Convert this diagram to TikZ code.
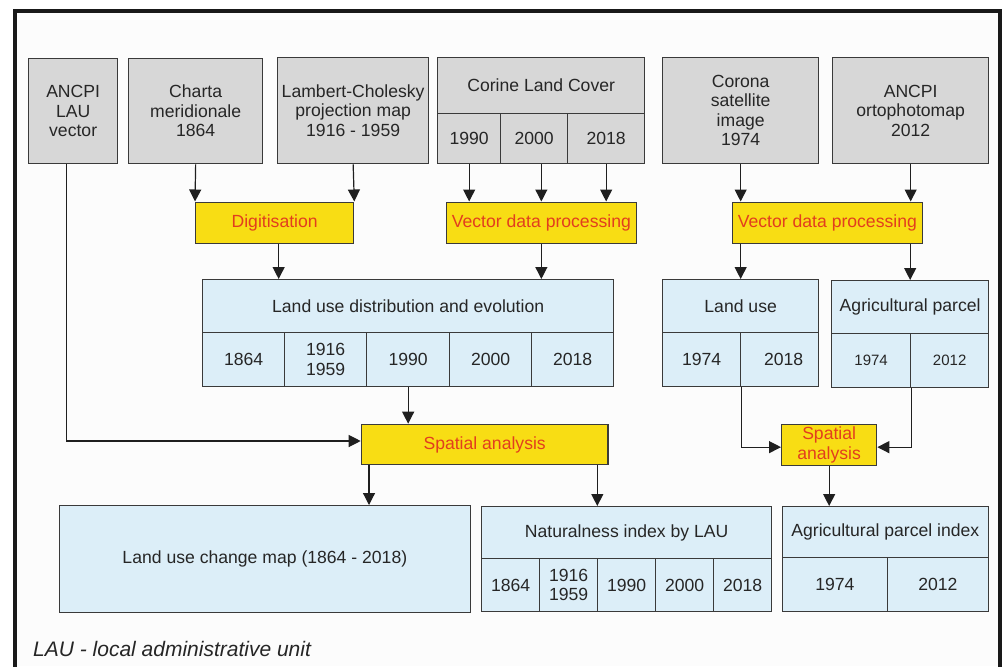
\documentclass[tikz,border=0pt]{standalone}
\usepackage{fontspec}
\setmainfont{Liberation Sans}
\usetikzlibrary{arrows.meta,calc}
\definecolor{boxgrey}{RGB}{215,215,215}
\definecolor{boxblue}{RGB}{220,238,248}
\definecolor{boxyellow}{RGB}{248,221,20}
\definecolor{txtred}{RGB}{226,62,30}
\definecolor{edge}{RGB}{58,58,58}
\definecolor{inside}{RGB}{252,252,252}
\begin{document}
\begin{tikzpicture}[x=1pt,y=-1pt,
  wh/.style 2 args={minimum width=#1pt, minimum height=#2pt},
  cell/.style={draw=edge, line width=1.3pt, anchor=north west, inner sep=0pt, align=center,
    font=\fontsize{17.6}{19.5}\selectfont, text=black!85},
  grey/.style={cell, fill=boxgrey},
  blue/.style={cell, fill=boxblue},
  proc/.style={cell, fill=boxyellow, text=txtred},
  arr/.style={draw=black!88, line width=1.2pt, -{Triangle[length=12pt,width=12pt]}}]
\useasboundingbox (0,0) rectangle (1003,666);
\fill[white] (0,0) rectangle (1003,666);
\fill[inside] (15,11) rectangle (1000,666);
\draw[line width=3.5pt, black!90] (15,668) -- (15,11) -- (1000,11) -- (1000,668);

% top sources
\node[grey, wh={89}{105}] (ancpi) at (28,58) {ANCPI\\LAU\\vector};
\node[grey, wh={134}{105}] (charta) at (128,58) {Charta\\meridionale\\1864};
\node[grey, wh={151}{106}] (lambert) at (277,57) {Lambert-Cholesky\\projection map\\1916 - 1959};
\node[grey, wh={207}{56}] (corT) at (437,57) {Corine Land Cover};
\node[grey, wh={63}{50}] (cor1) at (437,113) {1990};
\node[grey, wh={67}{50}] (cor2) at (500,113) {2000};
\node[grey, wh={77}{50}] (cor3) at (567,113) {2018};
\node[grey, wh={156}{106}] (corona) at (662,57) {Corona\\satellite\\image\\1974};
\node[grey, wh={156}{106}] (ortho) at (832,57) {ANCPI\\ortophotomap\\2012};

% processing
\node[proc, wh={158}{41}] (digit) at (195,201.5) {Digitisation};
\node[proc, wh={190}{41}] (vdp1) at (445.7,201.5) {Vector data processing};
\node[proc, wh={190}{41}] (vdp2) at (731.7,201.5) {Vector data processing};

% land use distribution
\node[blue, wh={411}{53}] (ludT) at (202,279) {Land use distribution and evolution};
\node[blue, wh={82}{54}] (lud1) at (202,332) {1864};
\node[blue, wh={82}{54}] (lud2) at (284,332) {1916\\1959};
\node[blue, wh={83}{54}] (lud3) at (366,332) {1990};
\node[blue, wh={82}{54}] (lud4) at (449,332) {2000};
\node[blue, wh={82}{54}] (lud5) at (531,332) {2018};

\node[blue, wh={156}{53}] (luT) at (662,279) {Land use};
\node[blue, wh={78}{54}] (lu1) at (662,332) {1974};
\node[blue, wh={78}{54}] (lu2) at (740,332) {\hspace*{8pt}2018};
\node[blue, wh={157}{53}] (apT) at (831,280) {Agricultural parcel};
\node[blue, wh={79}{54}, font=\fontsize{15}{18}\selectfont] (ap1) at (831,333) {1974};
\node[blue, wh={78}{54}, font=\fontsize{15}{18}\selectfont] (ap2) at (910,333) {2012};

% spatial analysis
\node[proc, wh={246.6}{40.3}] (sa1) at (360.7,423.7) {Spatial analysis};
\node[proc, wh={95}{41}] (sa2) at (781,424) {Spatial\\analysis};

% outputs
\node[blue, wh={411}{107}] (lucm) at (58.7,505) {Land use change map (1864 - 2018)};
\node[blue, wh={290}{52}] (natT) at (481,506) {Naturalness index by LAU};
\node[blue, wh={58}{53}] (nat1) at (481,558) {1864};
\node[blue, wh={58}{53}] (nat2) at (539,558) {1916\\1959};
\node[blue, wh={58}{53}] (nat3) at (597,558) {1990};
\node[blue, wh={58}{53}] (nat4) at (655,558) {2000};
\node[blue, wh={58}{53}] (nat5) at (713,558) {2018};
\node[blue, wh={206}{51}] (apiT) at (781.7,506) {Agricultural parcel index};
\node[blue, wh={105}{54}] (api1) at (781.7,557) {1974};
\node[blue, wh={101}{54}] (api2) at (886.7,557) {2012};

\node[anchor=west, inner sep=0pt, font=\fontsize{21}{24}\selectfont\itshape, text=black!85] (note) at (33,649) {LAU - local administrative unit};

% connectors
\draw[arr] (charta.south) -- (digit.north west);
\draw[arr] (lambert.south) -- (digit.north east);
\draw[arr] (cor1.south) -- (cor1.south |- vdp1.north);
\draw[arr] (vdp1.north |- cor2.south) -- (vdp1.north);
\draw[arr] (cor3.south) -- (cor3.south |- vdp1.north);
\draw[arr] (corona.south) -- (corona.south |- vdp2.north);
\draw[arr] (ortho.south) -- (ortho.south |- vdp2.north);
\draw[arr] ([xshift=4pt]digit.south) -- ([xshift=4pt]digit.south |- ludT.north);
\draw[arr] (vdp1.south) -- (vdp1.south |- ludT.north);
\draw[arr] (luT.north |- vdp2.south) -- (luT.north);
\draw[arr] (apT.north |- vdp2.south) -- (apT.north);
\draw[arr] (lud3.south) -- (lud3.south |- sa1.north);
\draw[arr] ([xshift=-6.5pt]ancpi.south) |- ([yshift=3.5pt]sa1.west);
\draw[arr] (lu1.south east) |- ([yshift=-2pt]sa2.west);
\draw[arr] (ap1.south east) |- ([yshift=-2pt]sa2.east);
\draw[arr] ([xshift=8.3pt]sa1.south west) -- ([xshift=8.3pt]sa1.south west |- lucm.north);
\draw[arr] ([xshift=-11.3pt]sa1.south east) -- ([xshift=-11.3pt]sa1.south east |- natT.north);
\draw[arr] (sa2.south) -- (sa2.south |- apiT.north);
\end{tikzpicture}
\end{document}
